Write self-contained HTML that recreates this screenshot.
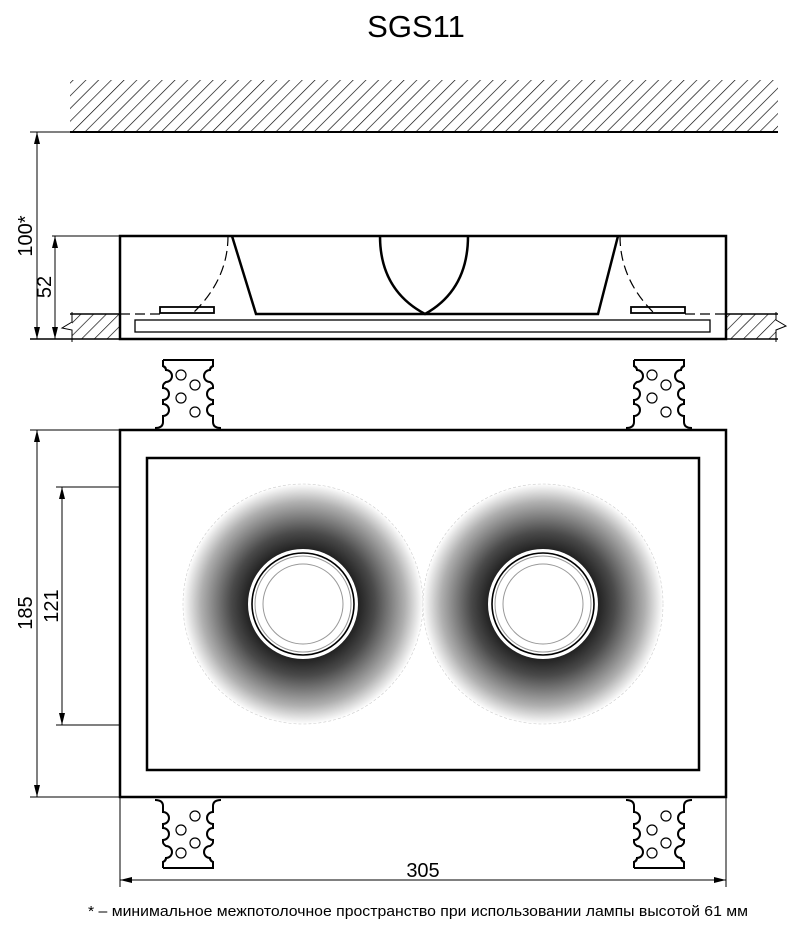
<!DOCTYPE html>
<html><head><meta charset="utf-8"><style>body{margin:0;background:#fff}svg{display:block}</style></head><body>
<svg width="800" height="931" viewBox="0 0 800 931" xmlns="http://www.w3.org/2000/svg" font-family="Liberation Sans, sans-serif">
<defs>
<pattern id="h" width="9" height="9" patternUnits="userSpaceOnUse" patternTransform="rotate(45)">
<line x1="0" y1="0" x2="0" y2="9" stroke="#000" stroke-width="1.3"/></pattern>
<radialGradient id="g">
<stop offset="0.44" stop-color="#1c1c1c"/>
<stop offset="0.6" stop-color="#4a4a4a"/>
<stop offset="0.85" stop-color="#b0b0b0"/>
<stop offset="1" stop-color="#fff"/>
</radialGradient>
<g id="clip">
<path d="M3,0 H53 V6 Q50,8 50,10 M3,0 V6 Q6,8 6,10" fill="none" stroke="#000" stroke-width="2"/>
<path d="M3,2 V6 Q6,7 6,10 A6,6 0 0 1 6,22 Q3,24 3,26 V28 A6,6 0 0 1 3,40 V44 A6,6 0 0 1 3,56 V62 Q3,68 -5,68 M53,2 V6 Q50,7 50,10 A6,6 0 0 0 50,22 Q53,24 53,26 V28 A6,6 0 0 0 53,40 V44 A6,6 0 0 0 53,56 V62 Q53,68 61,68" fill="none" stroke="#000" stroke-width="2"/>
<circle cx="21" cy="15" r="5" fill="none" stroke="#000" stroke-width="1.2"/>
<circle cx="35" cy="25" r="5" fill="none" stroke="#000" stroke-width="1.2"/>
<circle cx="21" cy="38" r="5" fill="none" stroke="#000" stroke-width="1.2"/>
<circle cx="35" cy="52" r="5" fill="none" stroke="#000" stroke-width="1.2"/>
</g>
</defs>
<text x="416" y="37" font-size="31" text-anchor="middle">SGS11</text>
<rect x="70" y="80" width="708" height="52" fill="url(#h)"/>
<line x1="70" y1="132" x2="778" y2="132" stroke="#000" stroke-width="2"/>
<rect x="72" y="314" width="48" height="25" fill="url(#h)"/>
<rect x="726" y="314" width="50" height="25" fill="url(#h)"/>
<line x1="70" y1="314" x2="120" y2="314" stroke="#000" stroke-width="1.5"/>
<line x1="726" y1="314" x2="778" y2="314" stroke="#000" stroke-width="1.5"/>
<line x1="30" y1="339" x2="778" y2="339" stroke="#000" stroke-width="1.5"/>
<polyline points="72,312 72,322 62,328 72,330 72,342" fill="#fff" stroke="#000" stroke-width="1"/>
<polyline points="776,312 776,320 786,326 776,330 776,342" fill="#fff" stroke="#000" stroke-width="1"/>
<rect x="120" y="236" width="606" height="103" fill="none" stroke="#000" stroke-width="2.5"/>
<rect x="135" y="320" width="575" height="12" fill="none" stroke="#000" stroke-width="1.3"/>
<polyline points="232,236 256,314 598,314 618,236" fill="none" stroke="#000" stroke-width="2.5"/>
<path d="M380,236 Q380,290 425,314 Q468,290 468,236" fill="none" stroke="#000" stroke-width="2.5"/>
<rect x="160" y="307" width="54" height="6" fill="#fff" stroke="#000" stroke-width="1.8"/>
<rect x="631" y="307" width="54" height="6" fill="#fff" stroke="#000" stroke-width="1.8"/>
<path d="M228,236 Q228,280 192,314" fill="none" stroke="#000" stroke-width="1.2" stroke-dasharray="10,5"/>
<path d="M620,236 Q620,280 655,314" fill="none" stroke="#000" stroke-width="1.2" stroke-dasharray="10,5"/>
<line x1="120" y1="314" x2="160" y2="314" stroke="#000" stroke-width="1.2" stroke-dasharray="10,5"/>
<line x1="685" y1="314" x2="726" y2="314" stroke="#000" stroke-width="1.2" stroke-dasharray="10,5"/>
<g stroke="#000" stroke-width="1" fill="none">
<line x1="30" y1="132" x2="70" y2="132"/>
<line x1="52" y1="236" x2="120" y2="236"/>
<line x1="37" y1="132" x2="37" y2="339"/>
<line x1="55" y1="236" x2="55" y2="339"/>
<line x1="30" y1="430" x2="120" y2="430"/>
<line x1="30" y1="797" x2="120" y2="797"/>
<line x1="37" y1="430" x2="37" y2="797"/>
<line x1="56" y1="487" x2="147" y2="487"/>
<line x1="56" y1="725" x2="147" y2="725"/>
<line x1="62" y1="487" x2="62" y2="725"/>
<line x1="120" y1="797" x2="120" y2="887"/>
<line x1="726" y1="797" x2="726" y2="887"/>
<line x1="120" y1="880" x2="726" y2="880"/>
</g>
<g fill="#000">
<path d="M37,132 l-3,12 h6z"/><path d="M37,339 l-3,-12 h6z"/>
<path d="M55,236 l-3,12 h6z"/><path d="M55,339 l-3,-12 h6z"/>
<path d="M37,430 l-3,12 h6z"/><path d="M37,797 l-3,-12 h6z"/>
<path d="M62,487 l-3,12 h6z"/><path d="M62,725 l-3,-12 h6z"/>
<path d="M120,880 l12,-3 v6z"/><path d="M726,880 l-12,-3 v6z"/>
</g>
<g font-size="20">
<text transform="translate(32,236) rotate(-90)" text-anchor="middle">100*</text>
<text transform="translate(51,287) rotate(-90)" text-anchor="middle">52</text>
<text transform="translate(32,613) rotate(-90)" text-anchor="middle">185</text>
<text transform="translate(58,606) rotate(-90)" text-anchor="middle">121</text>
<text x="423" y="877" text-anchor="middle">305</text>
</g>
<use href="#clip" transform="translate(160,360)"/>
<use href="#clip" transform="translate(631,360)"/>
<use href="#clip" transform="translate(160,868) scale(1,-1)"/>
<use href="#clip" transform="translate(631,868) scale(1,-1)"/>
<rect x="120" y="430" width="606" height="367" fill="#fff" stroke="#000" stroke-width="2.5"/>
<rect x="147" y="458" width="552" height="312" fill="none" stroke="#000" stroke-width="2.5"/>
<g>
<circle cx="303" cy="604" r="120" fill="url(#g)" stroke="#ccc" stroke-width="0.6" stroke-dasharray="3,2"/>
<circle cx="303" cy="604" r="55" fill="#fff"/>
<circle cx="303" cy="604" r="51" fill="none" stroke="#000" stroke-width="1.6"/>
<circle cx="303" cy="604" r="48" fill="none" stroke="#999" stroke-width="1"/>
<circle cx="303" cy="604" r="40" fill="none" stroke="#999" stroke-width="1"/>
</g>
<g>
<circle cx="543" cy="604" r="120" fill="url(#g)" stroke="#ccc" stroke-width="0.6" stroke-dasharray="3,2"/>
<circle cx="543" cy="604" r="55" fill="#fff"/>
<circle cx="543" cy="604" r="51" fill="none" stroke="#000" stroke-width="1.6"/>
<circle cx="543" cy="604" r="48" fill="none" stroke="#999" stroke-width="1"/>
<circle cx="543" cy="604" r="40" fill="none" stroke="#999" stroke-width="1"/>
</g>
<text x="88" y="916" font-size="15" textLength="660" lengthAdjust="spacingAndGlyphs">* – минимальное межпотолочное пространство при использовании лампы высотой 61 мм</text>
</svg>
</body></html>
